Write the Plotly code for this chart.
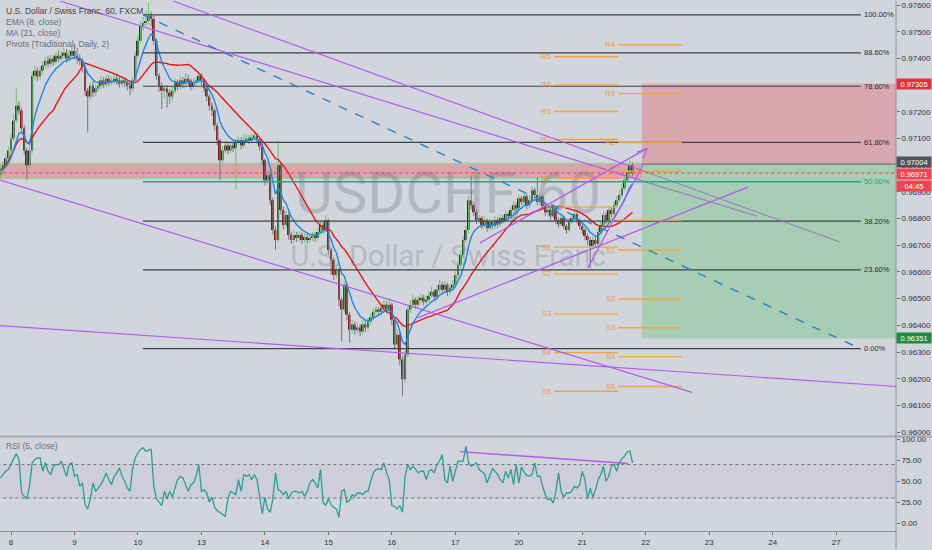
import pandas as pd
import plotly.graph_objects as go

# ---------------- data ----------------
day_labels = ["8", "9", "10", "13", "14", "15", "16", "17", "20", "21", "22", "23", "24", "27"]
first_day_bar = 4          # bar index of 8th 00:00
bars_per_day = 24          # hourly bars

opens = [
 0.96962, 0.96981, 0.97000, 0.97026, 0.97055, 0.97100, 0.97167, 0.97223, 0.97205, 0.97138,
 0.97055, 0.97000, 0.97055, 0.97335, 0.97354, 0.97332, 0.97354, 0.97373, 0.97391, 0.97380,
 0.97399, 0.97387, 0.97410, 0.97399, 0.97410, 0.97421, 0.97399, 0.97410, 0.97428, 0.97410,
 0.97399, 0.97391, 0.97369, 0.97279, 0.97257, 0.97298, 0.97272, 0.97287, 0.97298, 0.97317,
 0.97302, 0.97324, 0.97309, 0.97317, 0.97324, 0.97317, 0.97305, 0.97317, 0.97309, 0.97298,
 0.97287, 0.97317, 0.97410, 0.97466, 0.97522, 0.97533, 0.97540, 0.97559, 0.97548, 0.97466,
 0.97335, 0.97298, 0.97279, 0.97287, 0.97272, 0.97257, 0.97279, 0.97309, 0.97294, 0.97317,
 0.97305, 0.97324, 0.97317, 0.97294, 0.97309, 0.97317, 0.97335, 0.97317, 0.97287, 0.97257,
 0.97223, 0.97205, 0.97149, 0.97093, 0.97018, 0.97055, 0.97074, 0.97055, 0.97074, 0.97063,
 0.97085, 0.97093, 0.97074, 0.97093, 0.97100, 0.97093, 0.97104, 0.97111, 0.97093, 0.97070,
 0.97018, 0.96944, 0.96962, 0.96869, 0.96757, 0.96720, 0.97000, 0.96832, 0.96776, 0.96813,
 0.96738, 0.96720, 0.96738, 0.96727, 0.96738, 0.96720, 0.96731, 0.96720, 0.96727, 0.96735,
 0.96727, 0.96750, 0.96776, 0.96757, 0.96794, 0.96682, 0.96645, 0.96589, 0.96608, 0.96496,
 0.96459, 0.96552, 0.96440, 0.96384, 0.96403, 0.96384, 0.96392, 0.96377, 0.96403, 0.96392,
 0.96414, 0.96429, 0.96451, 0.96459, 0.96451, 0.96466, 0.96477, 0.96459, 0.96477, 0.96421,
 0.96328, 0.96365, 0.96272, 0.96198, 0.96291, 0.96459, 0.96477, 0.96496, 0.96477, 0.96496,
 0.96503, 0.96489, 0.96496, 0.96511, 0.96526, 0.96507, 0.96533, 0.96552, 0.96533, 0.96552,
 0.96526, 0.96541, 0.96552, 0.96589, 0.96627, 0.96664, 0.96720, 0.96757, 0.96869, 0.96850,
 0.96824, 0.96794, 0.96802, 0.96776, 0.96794, 0.96765, 0.96787, 0.96772, 0.96794, 0.96779,
 0.96802, 0.96794, 0.96817, 0.96809, 0.96832, 0.96850, 0.96839, 0.96876, 0.96862, 0.96884,
 0.96850, 0.96869, 0.96906, 0.96888, 0.96862, 0.96884, 0.96847, 0.96824, 0.96832, 0.96809,
 0.96839, 0.96794, 0.96779, 0.96802, 0.96772, 0.96757, 0.96787, 0.96802, 0.96817, 0.96794,
 0.96772, 0.96757, 0.96735, 0.96720, 0.96697, 0.96720, 0.96705, 0.96750, 0.96776, 0.96813,
 0.96794, 0.96832, 0.96817, 0.96850, 0.96869, 0.96888, 0.96914, 0.96944, 0.96973, 0.97000]

highs = [
 0.96995, 0.97015, 0.97040, 0.97070, 0.97118, 0.97190, 0.97288, 0.97240, 0.97215, 0.97150,
 0.97065, 0.97070, 0.97350, 0.97375, 0.97365, 0.97370, 0.97390, 0.97405, 0.97410, 0.97415,
 0.97412, 0.97425, 0.97430, 0.97428, 0.97440, 0.97435, 0.97432, 0.97450, 0.97455, 0.97440,
 0.97415, 0.97400, 0.97375, 0.97290, 0.97310, 0.97315, 0.97300, 0.97312, 0.97335, 0.97330,
 0.97340, 0.97335, 0.97332, 0.97345, 0.97338, 0.97330, 0.97335, 0.97330, 0.97320, 0.97310,
 0.97330, 0.97425, 0.97485, 0.97540, 0.97555, 0.97578, 0.97608, 0.97575, 0.97560, 0.97475,
 0.97345, 0.97310, 0.97300, 0.97300, 0.97285, 0.97295, 0.97325, 0.97320, 0.97335, 0.97330,
 0.97345, 0.97340, 0.97325, 0.97325, 0.97330, 0.97350, 0.97345, 0.97325, 0.97295, 0.97265,
 0.97235, 0.97215, 0.97160, 0.97100, 0.97070, 0.97090, 0.97085, 0.97088, 0.97085, 0.97100,
 0.97108, 0.97105, 0.97115, 0.97115, 0.97112, 0.97120, 0.97125, 0.97120, 0.97100, 0.97080,
 0.97025, 0.96980, 0.96970, 0.96880, 0.96770, 0.97093, 0.97010, 0.96845, 0.96830, 0.96825,
 0.96750, 0.96755, 0.96750, 0.96752, 0.96748, 0.96745, 0.96742, 0.96740, 0.96750, 0.96748,
 0.96765, 0.96790, 0.96790, 0.96813, 0.96800, 0.96690, 0.96655, 0.96625, 0.96615, 0.96505,
 0.96565, 0.96560, 0.96450, 0.96420, 0.96415, 0.96410, 0.96405, 0.96420, 0.96415, 0.96430,
 0.96445, 0.96465, 0.96475, 0.96470, 0.96482, 0.96495, 0.96490, 0.96503, 0.96485, 0.96430,
 0.96385, 0.96375, 0.96285, 0.96305, 0.96470, 0.96495, 0.96515, 0.96505, 0.96510, 0.96520,
 0.96515, 0.96510, 0.96528, 0.96545, 0.96535, 0.96550, 0.96570, 0.96565, 0.96568, 0.96560,
 0.96555, 0.96570, 0.96605, 0.96640, 0.96680, 0.96735, 0.96775, 0.96885, 0.96962, 0.96860,
 0.96835, 0.96815, 0.96810, 0.96808, 0.96800, 0.96800, 0.96795, 0.96808, 0.96805, 0.96815,
 0.96812, 0.96830, 0.96825, 0.96845, 0.96865, 0.96860, 0.96890, 0.96885, 0.96898, 0.96892,
 0.96885, 0.96920, 0.96915, 0.96955, 0.96898, 0.96892, 0.96855, 0.96845, 0.96840, 0.96855,
 0.96845, 0.96805, 0.96815, 0.96810, 0.96780, 0.96800, 0.96815, 0.96835, 0.96825, 0.96800,
 0.96780, 0.96765, 0.96745, 0.96730, 0.96735, 0.96730, 0.96765, 0.96790, 0.96828, 0.96825,
 0.96848, 0.96840, 0.96865, 0.96885, 0.96905, 0.96930, 0.96960, 0.96990, 0.97018, 0.97010]

lows = [
 0.96950, 0.96968, 0.96990, 0.97015, 0.97045, 0.97090, 0.97160, 0.97190, 0.97120, 0.97040,
 0.96944, 0.96990, 0.97045, 0.97320, 0.97315, 0.97320, 0.97340, 0.97360, 0.97365, 0.97370,
 0.97372, 0.97378, 0.97385, 0.97390, 0.97398, 0.97385, 0.97390, 0.97400, 0.97395, 0.97380,
 0.97375, 0.97350, 0.97260, 0.97122, 0.97245, 0.97255, 0.97260, 0.97275, 0.97285, 0.97290,
 0.97292, 0.97295, 0.97298, 0.97305, 0.97300, 0.97290, 0.97295, 0.97292, 0.97280, 0.97262,
 0.97275, 0.97305, 0.97400, 0.97455, 0.97505, 0.97520, 0.97525, 0.97520, 0.97450, 0.97320,
 0.97275, 0.97210, 0.97250, 0.97215, 0.97230, 0.97240, 0.97270, 0.97280, 0.97285, 0.97290,
 0.97295, 0.97300, 0.97280, 0.97285, 0.97300, 0.97305, 0.97300, 0.97275, 0.97240, 0.97205,
 0.97185, 0.97130, 0.97075, 0.96944, 0.97005, 0.97045, 0.97040, 0.97045, 0.97050, 0.96910,
 0.97075, 0.97060, 0.97065, 0.97085, 0.97080, 0.97085, 0.97095, 0.97080, 0.97055, 0.97000,
 0.96925, 0.96930, 0.96850, 0.96740, 0.96682, 0.96710, 0.96815, 0.96760, 0.96765, 0.96720,
 0.96705, 0.96710, 0.96712, 0.96715, 0.96705, 0.96710, 0.96705, 0.96710, 0.96715, 0.96712,
 0.96718, 0.96740, 0.96745, 0.96750, 0.96665, 0.96590, 0.96570, 0.96575, 0.96470, 0.96340,
 0.96450, 0.96420, 0.96335, 0.96370, 0.96365, 0.96370, 0.96360, 0.96365, 0.96375, 0.96380,
 0.96400, 0.96420, 0.96440, 0.96435, 0.96440, 0.96455, 0.96445, 0.96450, 0.96400, 0.96310,
 0.96315, 0.96250, 0.96134, 0.96185, 0.96280, 0.96445, 0.96465, 0.96462, 0.96465, 0.96485,
 0.96475, 0.96478, 0.96485, 0.96500, 0.96495, 0.96495, 0.96520, 0.96520, 0.96522, 0.96510,
 0.96515, 0.96530, 0.96540, 0.96575, 0.96615, 0.96655, 0.96710, 0.96745, 0.96835, 0.96810,
 0.96780, 0.96785, 0.96760, 0.96765, 0.96750, 0.96755, 0.96760, 0.96762, 0.96765, 0.96770,
 0.96782, 0.96785, 0.96795, 0.96800, 0.96820, 0.96825, 0.96830, 0.96850, 0.96855, 0.96835,
 0.96840, 0.96860, 0.96875, 0.96850, 0.96850, 0.96835, 0.96810, 0.96812, 0.96795, 0.96800,
 0.96780, 0.96765, 0.96770, 0.96760, 0.96742, 0.96750, 0.96780, 0.96795, 0.96782, 0.96760,
 0.96742, 0.96720, 0.96700, 0.96615, 0.96685, 0.96690, 0.96698, 0.96742, 0.96768, 0.96780,
 0.96788, 0.96805, 0.96810, 0.96840, 0.96860, 0.96880, 0.96905, 0.96935, 0.96962, 0.96958]

closes = [
 0.96981, 0.97000, 0.97026, 0.97055, 0.97100, 0.97167, 0.97223, 0.97205, 0.97138, 0.97055,
 0.97000, 0.97055, 0.97335, 0.97354, 0.97332, 0.97354, 0.97373, 0.97391, 0.97380, 0.97399,
 0.97387, 0.97410, 0.97399, 0.97410, 0.97421, 0.97399, 0.97410, 0.97428, 0.97410, 0.97399,
 0.97391, 0.97369, 0.97279, 0.97257, 0.97298, 0.97272, 0.97287, 0.97298, 0.97317, 0.97302,
 0.97324, 0.97309, 0.97317, 0.97324, 0.97317, 0.97305, 0.97317, 0.97309, 0.97298, 0.97287,
 0.97317, 0.97410, 0.97466, 0.97522, 0.97533, 0.97540, 0.97559, 0.97548, 0.97466, 0.97335,
 0.97298, 0.97279, 0.97287, 0.97272, 0.97257, 0.97279, 0.97309, 0.97294, 0.97317, 0.97305,
 0.97324, 0.97317, 0.97294, 0.97309, 0.97317, 0.97335, 0.97317, 0.97287, 0.97257, 0.97223,
 0.97205, 0.97149, 0.97093, 0.97018, 0.97055, 0.97074, 0.97055, 0.97074, 0.97063, 0.97085,
 0.97093, 0.97074, 0.97093, 0.97100, 0.97093, 0.97104, 0.97111, 0.97093, 0.97070, 0.97018,
 0.96944, 0.96962, 0.96869, 0.96757, 0.96720, 0.97000, 0.96832, 0.96776, 0.96813, 0.96738,
 0.96720, 0.96738, 0.96727, 0.96738, 0.96720, 0.96731, 0.96720, 0.96727, 0.96735, 0.96727,
 0.96750, 0.96776, 0.96757, 0.96794, 0.96682, 0.96645, 0.96589, 0.96608, 0.96496, 0.96459,
 0.96552, 0.96440, 0.96384, 0.96403, 0.96384, 0.96392, 0.96377, 0.96403, 0.96392, 0.96414,
 0.96429, 0.96451, 0.96459, 0.96451, 0.96466, 0.96477, 0.96459, 0.96477, 0.96421, 0.96328,
 0.96365, 0.96272, 0.96198, 0.96291, 0.96459, 0.96477, 0.96496, 0.96477, 0.96496, 0.96503,
 0.96489, 0.96496, 0.96511, 0.96526, 0.96507, 0.96533, 0.96552, 0.96533, 0.96552, 0.96526,
 0.96541, 0.96552, 0.96589, 0.96627, 0.96664, 0.96720, 0.96757, 0.96869, 0.96850, 0.96824,
 0.96794, 0.96802, 0.96776, 0.96794, 0.96765, 0.96787, 0.96772, 0.96794, 0.96779, 0.96802,
 0.96794, 0.96817, 0.96809, 0.96832, 0.96850, 0.96839, 0.96876, 0.96862, 0.96884, 0.96850,
 0.96869, 0.96906, 0.96888, 0.96862, 0.96884, 0.96847, 0.96824, 0.96832, 0.96809, 0.96839,
 0.96794, 0.96779, 0.96802, 0.96772, 0.96757, 0.96787, 0.96802, 0.96817, 0.96794, 0.96772,
 0.96757, 0.96735, 0.96720, 0.96697, 0.96720, 0.96705, 0.96750, 0.96776, 0.96813, 0.96794,
 0.96832, 0.96817, 0.96850, 0.96869, 0.96888, 0.96914, 0.96944, 0.96973, 0.97000, 0.96971]

rsi_values = [
 54, 58, 62, 64, 70, 76, 83, 76, 36, 32, 29, 44, 72, 76, 78, 78, 62, 72, 62, 58,
 68, 70, 70, 74, 66, 56, 70, 72, 56, 58, 44, 48, 22, 17, 29, 48, 38, 42, 46, 52,
 60, 52, 46, 56, 60, 66, 56, 50, 42, 38, 66, 78, 84, 88, 90, 86, 87, 88, 44, 29,
 25, 21, 38, 29, 38, 31, 42, 52, 56, 54, 46, 38, 46, 48, 56, 70, 38, 40, 36, 25,
 31, 19, 15, 13, 11, 8, 29, 38, 36, 34, 52, 38, 58, 56, 58, 52, 58, 52, 32, 11,
 31, 17, 13, 29, 60, 40, 38, 34, 38, 29, 36, 38, 38, 36, 38, 32, 38, 48, 52, 48,
 42, 64, 25, 21, 29, 22, 19, 17, 7, 38, 40, 25, 27, 34, 32, 36, 36, 34, 38, 38,
 50, 60, 64, 65, 64, 72, 60, 52, 21, 20, 17, 21, 13, 56, 70, 64, 68, 64, 60, 62,
 62, 52, 62, 64, 60, 70, 74, 82, 52, 48, 68, 50, 64, 74, 74, 74, 92, 72, 68, 70,
 72, 64, 61, 59, 48, 56, 65, 62, 58, 52, 48, 62, 54, 64, 46, 70, 48, 67, 61, 57,
 56, 58, 72, 56, 56, 44, 34, 28, 29, 24, 38, 60, 38, 31, 36, 36, 38, 44, 42, 46,
 62, 52, 29, 42, 31, 40, 52, 58, 68, 50, 56, 68, 70, 62, 72, 77, 80, 85, 86, 72]

# Fibonacci retracement (anchored high / low)
fib_high = 0.97563
fib_low = 0.96313
fib_ratios = [1.0, 0.886, 0.786, 0.618, 0.5, 0.382, 0.236, 0.0]
fib_labels = ["100.00%", "88.60%", "78.60%", "61.80%", "50.00%", "38.20%", "23.60%", "0.00%"]
fib_bars = (53.9, 325.3)

# Daily traditional pivots (two sessions)
pivot_names_a = ["R5", "R4", "R3", "R2", "R1", "P", "S1", "S2", "S3", "S4", "S5"]
pivot_levels_a = [0.97406, 0.97301, 0.97201, 0.97096, 0.96951, 0.96843, 0.96693, 0.96593, 0.96443, 0.96298, 0.96153]
pivot_bars_a = (209.3, 233.5)
pivot_names_b = ["R4", "R3", "R2", "R1", "P", "S1", "S2", "S3", "S4", "S5"]
pivot_levels_b = [0.97451, 0.97268, 0.97085, 0.96977, 0.96794, 0.96682, 0.96499, 0.96391, 0.96283, 0.96171]
pivot_bars_b = (233.5, 257.7)

# Resistance zone, short position and last price
zone_top, zone_bottom = 0.97007, 0.96950
position_entry, position_stop, position_target = 0.97004, 0.97305, 0.96351
position_start_bar = 242.5
last_price = 0.96971
countdown = "04:45"

# Drawn trendlines: (bar0, price0, bar1, price1)
trend_bright = [
    (22.5, 0.97615, 241.8, 0.96944),
    (65.2, 0.97615, 241.8, 0.96983),
    (-0.16, 0.96944, 261.5, 0.96149),
    (-0.16, 0.96399, 338.6, 0.96171),
    (157.9, 0.96429, 282.6, 0.96918),
    (181.3, 0.96709, 244.5, 0.97063),
    (222.1, 0.96615, 243.3, 0.97007),
    (244.5, 0.97063, 240.7, 0.97048),
    (244.5, 0.97063, 243.1, 0.97026),
]
trend_muted = [
    (241.8, 0.96944, 286.0, 0.96809),
    (241.8, 0.96983, 317.4, 0.96712),
]
fib_trend = (53.9, fib_high, 325.0, fib_low)
rsi_trend = (173.7, 85.4, 237.3, 71.2)

# ---------------- figure ----------------
BG = "#d2d5dc"
FONT = "Liberation Sans, Arial, sans-serif"
X_RANGE = [-0.16, 338.6]
Y_RANGE = [0.95984, 0.97615]
RSI_RANGE = [-9.5, 103.6]
XD = 896 / 932
Y_MAIN_BOT = 1 - 437 / 550
Y_RSI_BOT = 1 - 532 / 550

n = len(closes)
idx = list(range(n))
cs = pd.Series(closes)
ema8 = cs.ewm(span=8, adjust=False).mean()
ma21 = cs.rolling(21, min_periods=1).mean()

fig = go.Figure()

# watermark (behind candles)
cx = (X_RANGE[0] + X_RANGE[1]) / 2
yspan = Y_RANGE[1] - Y_RANGE[0]
fig.add_trace(go.Scatter(
    x=[cx, cx], y=[Y_RANGE[0] + 0.547 * yspan, Y_RANGE[0] + 0.407 * yspan],
    mode="text", text=["USDCHF, 60", "U.S. Dollar / Swiss Franc"],
    textfont=dict(size=[58, 29], color="rgba(110,114,126,0.30)",
                  family="Liberation Sans Narrow, Roboto, Arial, sans-serif"),
    hoverinfo="skip", xaxis="x", yaxis="y"))

# wicks
UP_WICK, DN_WICK = "#6cc46c", "#74767c"
UP_BODY, DN_BODY = "#1f3526", "#7c1d1f"
wx_up, wy_up, wx_dn, wy_dn = [], [], [], []
for i in idx:
    if closes[i] >= opens[i]:
        wx_up += [i, i, None]; wy_up += [lows[i], highs[i], None]
    else:
        wx_dn += [i, i, None]; wy_dn += [lows[i], highs[i], None]
fig.add_trace(go.Scatter(x=wx_up, y=wy_up, mode="lines", line=dict(color=UP_WICK, width=1),
                         hoverinfo="skip", xaxis="x", yaxis="y"))
fig.add_trace(go.Scatter(x=wx_dn, y=wy_dn, mode="lines", line=dict(color=DN_WICK, width=1),
                         hoverinfo="skip", xaxis="x", yaxis="y"))
# bodies
base = [min(o, c) for o, c in zip(opens, closes)]
height = [max(abs(c - o), 0.00002) for o, c in zip(opens, closes)]
colors = [UP_BODY if c >= o else DN_BODY for o, c in zip(opens, closes)]
fig.add_trace(go.Bar(x=idx, y=height, base=base, width=0.74,
                     marker=dict(color=colors, line=dict(width=0)),
                     hoverinfo="skip", xaxis="x", yaxis="y"))

fig.add_trace(go.Scatter(x=idx, y=ma21, mode="lines", line=dict(color="#e3191c", width=1.4),
                         hoverinfo="skip", xaxis="x", yaxis="y"))
fig.add_trace(go.Scatter(x=idx, y=ema8, mode="lines", line=dict(color="#1e86e0", width=1.4),
                         hoverinfo="skip", xaxis="x", yaxis="y"))

# RSI
fig.add_trace(go.Scatter(x=idx, y=rsi_values, mode="lines", line=dict(color="#2a9d94", width=1.3),
                         hoverinfo="skip", xaxis="x2", yaxis="y2"))

shapes = []
def line(x0, y0, x1, y1, color, width=1.0, dash="solid", xref="x", yref="y", layer="above"):
    shapes.append(dict(type="line", x0=x0, y0=y0, x1=x1, y1=y1, xref=xref, yref=yref,
                       layer=layer, line=dict(color=color, width=width, dash=dash)))

def rect(x0, y0, x1, y1, fill, xref="x", yref="y", layer="below"):
    shapes.append(dict(type="rect", x0=x0, y0=y0, x1=x1, y1=y1, xref=xref, yref=yref,
                       layer=layer, fillcolor=fill, line=dict(width=0)))

# zone and position boxes
rect(-2, zone_bottom, position_start_bar, zone_top, "#daa4ac")
line(-2, zone_top, position_start_bar, zone_top, "#98d698", 1.2, layer="below")
line(-2, zone_bottom, position_start_bar, zone_bottom, "#98d698", 1.2, layer="below")
rect(position_start_bar, position_entry, 360, position_stop, "#d9a7b0")
rect(position_start_bar, position_target, 360, position_entry, "#a7ceb4")
line(position_start_bar, position_entry, 360, position_entry, "#6f737c", 1.2, layer="below")

# RSI band
rect(X_RANGE[0] - 1, 30, 360, 70, "rgba(140,110,200,0.07)", xref="x2", yref="y2")
line(X_RANGE[0] - 1, 70, 360, 70, "#6f727b", 1, "dot", xref="x2", yref="y2")
line(X_RANGE[0] - 1, 30, 360, 30, "#6f727b", 1, "dot", xref="x2", yref="y2")

# fib levels
fib_prices = [fib_low + r * (fib_high - fib_low) for r in fib_ratios]
for r, p in zip(fib_ratios, fib_prices):
    col = "#22a38f" if r == 0.5 else "#3e4149"
    line(fib_bars[0], p, fib_bars[1], p, col, 1.4 if r == 0.5 else 1.1)

# pivots
PIV = "#f3a43e"
for lv in pivot_levels_a:
    line(pivot_bars_a[0], lv, pivot_bars_a[1], lv, PIV, 1.4)
for lv in pivot_levels_b:
    line(pivot_bars_b[0], lv, pivot_bars_b[1], lv, PIV, 1.4)

# current price line
line(X_RANGE[0] - 1, last_price, 360, last_price, "#e8404b", 1, "dot")

# trendlines
PURPLE = "#b25af2"
for (a, b, c, d) in trend_bright:
    line(a, b, c, d, PURPLE, 1.2)
for (a, b, c, d) in trend_muted:
    line(a, b, c, d, "rgba(150,110,190,0.75)", 1.2)
line(*fib_trend, "#2b80c6", 1.4, "dash")
line(*rsi_trend, PURPLE, 1.4, xref="x2", yref="y2")

# frame lines
line(0, Y_MAIN_BOT, 1, Y_MAIN_BOT, "#a6a9b1", 2, xref="paper", yref="paper")
line(XD, 0, XD, 1, "#8d9099", 1, xref="paper", yref="paper")

annotations = []
def ann(text, x, y, xref="x", yref="y", color="#333", size=8, xanchor="left", yanchor="middle", **kw):
    d = dict(text=text, x=x, y=y, xref=xref, yref=yref, showarrow=False, xanchor=xanchor,
             yanchor=yanchor, font=dict(color=color, size=size, family=FONT))
    d.update(kw)
    annotations.append(d)

for r, p, lab in zip(fib_ratios, fib_prices, fib_labels):
    ann(lab, fib_bars[1] + 0.3, p, color="#1f9e8a" if r == 0.5 else "#25282e", size=7.5)

PIV_TXT = "#ee9a2c"
for nm, lv in zip(pivot_names_a, pivot_levels_a):
    ann(nm, pivot_bars_a[0] - 0.3, lv, color=PIV_TXT, size=7.5, xanchor="right")
for nm, lv in zip(pivot_names_b, pivot_levels_b):
    ann(nm, pivot_bars_b[0] - 0.3, lv, color=PIV_TXT, size=7.5, xanchor="right")

# legend texts
legend_rows = ["U.S. Dollar / Swiss Franc, 60, FXCM", "EMA (8, close)", "MA (21, close)",
               "Pivots (Traditional, Daily, 2)"]
for k, t in enumerate(legend_rows):
    ann(t, 4 / 932, 1 - (10 + 11 * k) / 550, xref="paper", yref="paper",
        color="#3f4249" if k == 0 else "#6b6e78", size=8.5)
ann("RSI (5, close)", 4 / 932, 1 - 447 / 550, xref="paper", yref="paper", color="#6b6e78", size=8.5)

# price-scale labels
def scale_label(text, price, bg, yshift=0):
    annotations.append(dict(text=text, x=XD, y=price, xref="paper", yref="y", showarrow=False,
                            xanchor="left", yanchor="middle", width=34, height=10, align="center",
                            bgcolor=bg, borderpad=0, yshift=yshift,
                            font=dict(color="white", size=7.5, family=FONT)))
scale_label(f"{position_stop:.5f}", position_stop, "#e0323c")
scale_label(f"{position_entry:.5f}", position_entry, "#4f525b", yshift=2)
scale_label(f"{last_price:.5f}", last_price, "#ec4450", yshift=-1)
scale_label(countdown, last_price, "#ec4450", yshift=-13)
scale_label(f"{position_target:.5f}", position_target, "#1f8a43")

price_ticks = [round(0.960 + 0.001 * k, 3) for k in range(17)]
day_ticks = [first_day_bar + bars_per_day * k for k in range(len(day_labels))]
tickfont = dict(size=8, color="#2f3238", family=FONT)

fig.update_layout(
    width=932, height=550, margin=dict(l=0, r=0, t=0, b=0),
    paper_bgcolor=BG, plot_bgcolor=BG, showlegend=False, barmode="overlay",
    shapes=shapes, annotations=annotations, hovermode=False,
    xaxis=dict(domain=[0, XD], range=X_RANGE, anchor="y", showticklabels=False, showgrid=False,
               zeroline=False, showline=False, ticks=""),
    yaxis=dict(domain=[Y_MAIN_BOT, 1], range=Y_RANGE, anchor="x", side="right",
               tickvals=price_ticks, ticktext=[f"{v:.5f}" for v in price_ticks],
               ticks="outside", ticklen=3, tickcolor="#6b6e78", tickfont=tickfont,
               showgrid=False, zeroline=False, showline=False),
    xaxis2=dict(domain=[0, XD], range=X_RANGE, anchor="y2", tickvals=day_ticks, ticktext=day_labels,
                ticks="outside", ticklen=3, tickcolor="#6b6e78", tickfont=tickfont,
                showgrid=False, zeroline=False, showline=True, linecolor="#8d9099", linewidth=1),
    yaxis2=dict(domain=[Y_RSI_BOT, Y_MAIN_BOT], range=RSI_RANGE, anchor="x2", side="right",
                tickvals=[0, 25, 50, 75, 100], ticktext=["0.00", "25.00", "50.00", "75.00", "100.00"],
                ticks="outside", ticklen=3, tickcolor="#6b6e78", tickfont=tickfont,
                showgrid=False, zeroline=False, showline=False),
)

fig.write_html("out.html", config={"displayModeBar": False},
               post_script="document.body.style.margin='0px';document.body.style.background='" + BG + "';")
